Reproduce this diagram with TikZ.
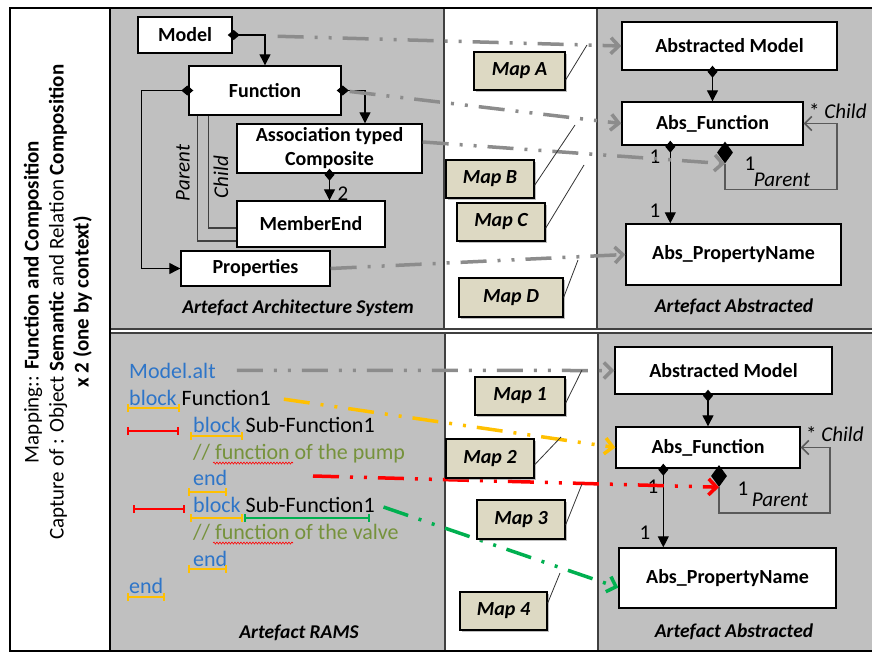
\documentclass[tikz,border=0pt]{standalone}
\usepackage{fontspec}
\setmainfont{Carlito}
\usetikzlibrary{arrows.meta,shapes.geometric,shadows,decorations.pathmorphing}
\definecolor{panelgray}{RGB}{192,192,192}
\definecolor{maptan}{RGB}{221,217,195}
\definecolor{mapgray}{RGB}{140,140,140}
\definecolor{kwblue}{RGB}{46,117,200}
\definecolor{cmtgreen}{RGB}{118,146,60}
\definecolor{markyellow}{RGB}{255,192,0}
\definecolor{markred}{RGB}{255,0,0}
\definecolor{markgreen}{RGB}{0,176,80}

\begin{document}
\begin{tikzpicture}[x=1pt, y=-1pt,
  box/.style={draw, line width=1.4pt, fill=white, inner sep=0pt, align=center,
    font=\fontsize{20}{24}\selectfont\bfseries},
  mapbox/.style={draw, line width=1.2pt, fill=maptan, inner sep=0pt,
    minimum width=88pt, minimum height=38pt,
    font=\fontsize{20}{24}\selectfont\bfseries\itshape,
    drop shadow={shadow xshift=2pt, shadow yshift=-2pt, fill=black!50}},
  paneltitle/.style={font=\fontsize{19.5}{23}\selectfont\bfseries\itshape},
  lbl/.style={inner sep=0pt, font=\fontsize{21}{25}\selectfont},
  ilbl/.style={inner sep=0pt, font=\fontsize{21}{25}\selectfont\itshape},
  comp/.style={line width=1.2pt, shorten <=-5pt,
    arrows={Diamond[length=12pt,width=10pt]-Triangle[length=11pt,width=11pt]}},
  selfloop/.style={line width=1.5pt, black!65, -{Straight Barb[length=7pt,width=14pt]}},
  bigdia/.style={diamond, fill=black, inner sep=0pt, minimum width=16pt, minimum height=22pt},
  maplink/.style={line width=3.5pt, dash pattern=on 26pt off 11pt on 3pt off 11pt on 3pt off 11pt,
    -{Straight Barb[length=8pt,width=16pt]}},
  calloutline/.style={line width=0.8pt, black!80},
  code/.style={anchor=base west, inner sep=1pt, font=\fontsize{22}{26}\selectfont},
  underbar/.style={line width=2pt, {Bar[width=8pt]}-{Bar[width=8pt]}},
  squiggle/.style={markred, line width=0.6pt, decorate,
    decoration={snake, amplitude=1pt, segment length=3pt}}
]
\useasboundingbox (0,0) rectangle (872,653);

% panels
\draw[line width=1.2pt, black!75, fill=panelgray] (110,8) rectangle (444,329);
\draw[line width=1.2pt, black!75, fill=white] (444,8) rectangle (597,329);
\draw[line width=1.2pt, black!75, fill=panelgray] (597,8) rectangle (874,329);
\draw[line width=1.2pt, black!75, fill=panelgray] (110,333) rectangle (445,651);
\draw[line width=1.2pt, black!75, fill=white] (445,333) rectangle (598,651);
\draw[line width=1.2pt, black!75, fill=panelgray] (598,333) rectangle (874,651);
\draw[line width=2pt] (10,8) rectangle (874,651);
\draw[line width=2pt] (110,8) -- (110,651);

\node[rotate=90, align=center, font=\fontsize{21}{25}\selectfont] (side) at (58,302)
  {Mapping:: \textbf{Function and Composition}\\
   Capture of : Object \textbf{Semantic} and Relation \textbf{Composition}\\
   \textbf{x 2 (one by context)}};

% architecture system
\node[box, minimum width=94pt, minimum height=36pt] (Model) at (185,35) {Model};
\node[box, minimum width=152pt, minimum height=49pt] (Function) at (265,90.5) {Function};
\node[box, minimum width=185pt, minimum height=49pt] (Assoc) at (329.5,148.5) {Association typed\\Composite};
\node[box, minimum width=148pt, minimum height=46pt] (MemberEnd) at (311,224) {MemberEnd};
\node[box, minimum width=149pt, minimum height=35pt] (Properties) at (255.5,268.5) {Properties};
\node[paneltitle] (archTitle) at (298,308) {Artefact Architecture System};

\draw[comp] (Model.east) -| (Function.north);
\draw[comp] (Function.east) -| ([xshift=35.5pt]Assoc.north);
\draw[comp] (Function.west) -- ++(-47,0) |- (Properties.west);
\draw[comp] (Assoc.south) -- (Assoc.south |- MemberEnd.north);
\node[lbl] (two) at (343,194) {2};
\draw[line width=1.3pt, black!75] ([xshift=9pt]Function.south west) |- ([yshift=-17pt]MemberEnd.west);
\draw[line width=1.3pt, black!75] ([xshift=20pt]Function.south west) |- ([yshift=-4pt]MemberEnd.west);
\node[ilbl, rotate=90] (parentLbl) at (183,173) {Parent};
\node[ilbl, rotate=90] (childLbl) at (221,177) {Child};

% abstracted, top
\node[box, minimum width=215pt, minimum height=48pt] (AbsModel) at (729.5,46) {Abstracted Model};
\node[box, minimum width=181pt, minimum height=43pt] (AbsFunc) at (712.5,123.5) {Abs\_Function};
\node[box, minimum width=215pt, minimum height=61pt] (AbsProp) at (733.5,254.5) {Abs\_PropertyName};
\node[bigdia] (BigD) at (725,152.5) {};
\node[paneltitle] (abstTitle) at (734,307) {Artefact Abstracted};

\draw[comp] (AbsFunc.north |- AbsModel.south) -- (AbsFunc.north);
\draw[comp] ([xshift=49pt]AbsFunc.south west) coordinate (afs) -- (afs |- AbsProp.north);
\draw[selfloop] (BigD.south) |- ++(112,26) |- (AbsFunc.east);
\node[lbl] (oneA) at (655,157) {1};
\node[lbl] (oneB) at (655,211) {1};
\node[lbl, anchor=west] (childTop) at (809,111) {* \textit{Child}};
\node[lbl] (oneC) at (750,164) {1};
\node[ilbl] (parentTop) at (782,180) {Parent};

% top mappings
\draw[maplink, mapgray, shorten <=45pt] (Model.east) -- (AbsModel.west);
\draw[maplink, mapgray, shorten <=8pt] (Function.east) -- (AbsFunc.west);
\draw[maplink, mapgray] (Assoc.4) -- (BigD.south);
\draw[maplink, mapgray] (Properties.east) -- (AbsProp.west);

\node[mapbox, minimum width=91pt] (MapA) at (519.5,71) {Map A};
\node[mapbox] (MapB) at (490,179) {Map B};
\node[mapbox] (MapC) at (501,222) {Map C};
\node[mapbox, minimum width=104pt, minimum height=39pt] (MapD) at (511,297.5) {Map D};
\coordinate (tipA) at (587,45);
\coordinate (tipB) at (575,125);
\coordinate (tipC) at (584,165);
\coordinate (tipD) at (578,260);
\draw[calloutline] (MapA.-11) -- (tipA);
\draw[calloutline] (MapB.-8) -- (tipB);
\draw[calloutline] (MapC.-8) -- (tipC);
\draw[calloutline] (MapD.east) -- (tipD);

% RAMS code
\node[code] (Malt) at (128,378) {\textcolor{kwblue}{Model.alt}};
\node[code] (Func1) at (128,405) {\textcolor{kwblue}{block} Function1};
\node[code] (Sub1) at (192,432) {\textcolor{kwblue}{block} Sub-Function1};
\node[code] (Com1) at (192,459) {\textcolor{cmtgreen}{// function of the pump}};
\node[code] (End1) at (192,485) {\textcolor{kwblue}{end}};
\node[code] (Sub2) at (192,512) {\textcolor{kwblue}{block} Sub-Function1};
\node[code] (Com2) at (192,539) {\textcolor{cmtgreen}{// function of the valve}};
\node[code] (End2) at (192,566) {\textcolor{kwblue}{end}};
\node[code] (End3) at (128,593) {\textcolor{kwblue}{end}};
\node[paneltitle] (ramsTitle) at (299,633) {Artefact RAMS};

\draw[underbar, markyellow] (127,408) -- (180,408);
\draw[underbar, markyellow] (190,436) -- (243,436);
\draw[underbar, markyellow] (188,492) -- (227,492);
\draw[underbar, markyellow] (190,518) -- (243,518);
\draw[underbar, markyellow] (188,569) -- (227,569);
\draw[underbar, markyellow] (127,597) -- (165,597);
\draw[underbar, markgreen] (244,518) -- (370,518);
\draw[underbar, markred] (127,431) -- (179,431);
\draw[underbar, markred] (133,509) -- (185,509);
\draw[squiggle] (213,463) -- (293,463);
\draw[squiggle] (213,543) -- (293,543);

% abstracted, bottom
\node[box, minimum width=217pt, minimum height=47pt] (AbsModel2) at (723.5,370.5) {Abstracted Model};
\node[box, minimum width=184pt, minimum height=41pt] (AbsFunc2) at (708,447.5) {Abs\_Function};
\node[box, minimum width=217pt, minimum height=60pt] (AbsProp2) at (727.5,578) {Abs\_PropertyName};
\node[bigdia] (BigD2) at (719,476) {};
\node[paneltitle] (abstTitle2) at (734,632) {Artefact Abstracted};

\draw[comp] (AbsFunc2.north |- AbsModel2.south) -- (AbsFunc2.north);
\draw[comp] ([xshift=48pt]AbsFunc2.south west) coordinate (afs2) -- (afs2 |- AbsProp2.north);
\draw[selfloop] (BigD2.south) |- ++(111,26) |- (AbsFunc2.east);
\node[lbl] (oneD) at (653,487) {1};
\node[lbl] (oneE) at (645,533) {1};
\node[lbl, anchor=west] (childBot) at (806,434) {* \textit{Child}};
\node[lbl] (oneF) at (743,489) {1};
\node[ilbl] (parentBot) at (780,500) {Parent};

% bottom mappings
\coordinate (redStart) at (313,476);
\draw[maplink, mapgray, shorten <=20pt] (Malt.east) -- (AbsModel2.west);
\draw[maplink, markyellow, shorten <=12pt] (Func1.east) -- (AbsFunc2.west);
\draw[maplink, markred] (redStart) -- (BigD2.south);
\draw[maplink, markgreen, shorten <=8pt] (Sub2.east) -- (AbsProp2.185);

\node[mapbox, minimum width=90pt] (Map1) at (520,396) {Map 1};
\node[mapbox, minimum height=39pt] (Map2) at (490,458.5) {Map 2};
\node[mapbox, minimum height=39pt] (Map3) at (521,519.5) {Map 3};
\node[mapbox, minimum width=87pt] (Map4) at (503.5,611) {Map 4};
\coordinate (tip1) at (582,370);
\coordinate (tip2) at (561,437);
\coordinate (tip3) at (582,484);
\coordinate (tip4) at (560,573);
\draw[calloutline] (Map1.-9) -- (tip1);
\draw[calloutline] (Map2.-8) -- (tip2);
\draw[calloutline] (Map3.-7) -- (tip3);
\draw[calloutline] (Map4.10) -- (tip4);
\end{tikzpicture}
\end{document}
